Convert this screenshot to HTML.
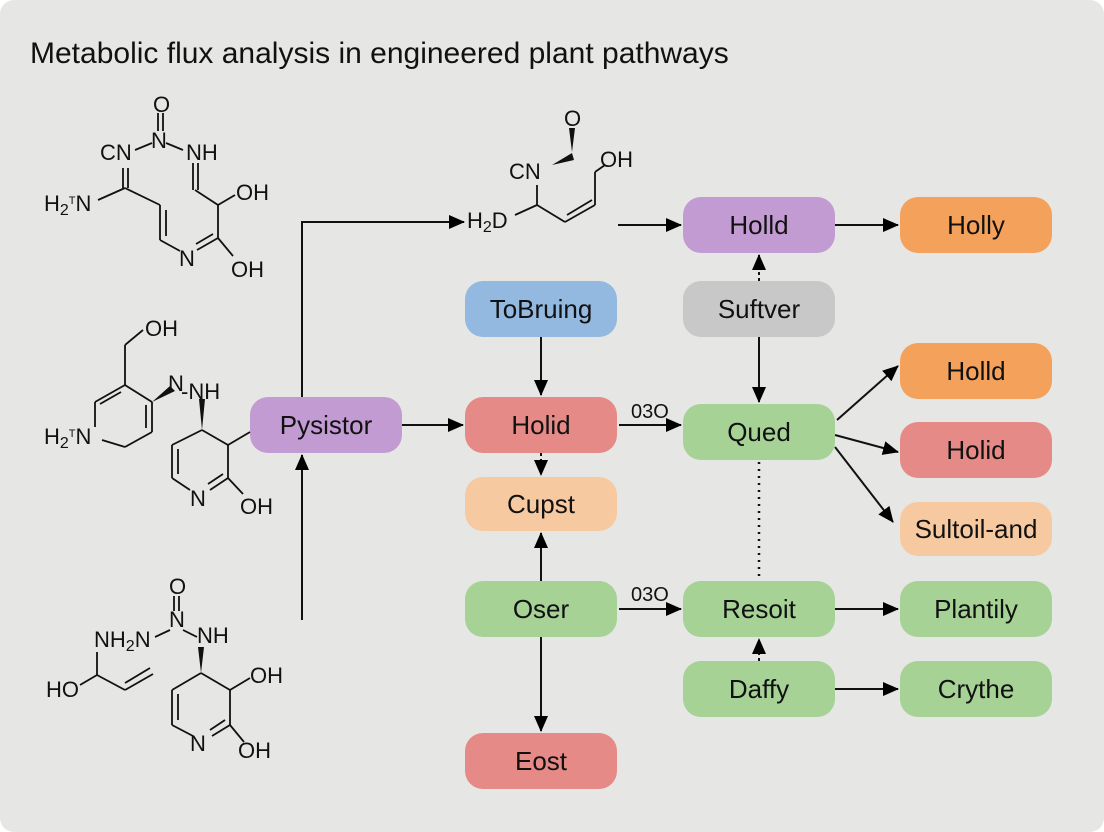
<!DOCTYPE html>
<html><head><meta charset="utf-8"><style>
body{margin:0;background:#fff;}
svg{display:block;font-family:"Liberation Sans",sans-serif;}
</style></head><body>
<svg width="1104" height="832" viewBox="0 0 1104 832" xmlns="http://www.w3.org/2000/svg">
<defs>
<marker id="b" markerWidth="16" markerHeight="14" refX="15" refY="7" orient="auto" markerUnits="userSpaceOnUse"><path d="M0,0 L16,7 L0,14 Z"/></marker>
</defs>
<rect x="0" y="0" width="1104" height="832" rx="14" fill="#e6e6e4"/>
<text x="30" y="63" font-size="30" fill="#111">Metabolic flux analysis in engineered plant pathways</text>

<g stroke="#111" stroke-width="2" fill="none">
<line x1="402" y1="425" x2="463" y2="425" marker-end="url(#b)"/>
<polyline points="302,397 302,222 464,222" marker-end="url(#b)"/>
<line x1="302" y1="620" x2="302" y2="455" marker-end="url(#b)"/>
<line x1="619" y1="425" x2="681" y2="425" marker-end="url(#b)"/>
<line x1="541" y1="337" x2="541" y2="395" marker-end="url(#b)"/>
<line x1="541" y1="453" x2="541" y2="475" stroke-dasharray="3,3" marker-end="url(#b)"/>
<line x1="541" y1="581" x2="541" y2="533" marker-end="url(#b)"/>
<line x1="541" y1="637" x2="541" y2="731" marker-end="url(#b)"/>
<line x1="619" y1="609" x2="681" y2="609" marker-end="url(#b)"/>
<line x1="835" y1="609" x2="898" y2="609" marker-end="url(#b)"/>
<line x1="835" y1="689" x2="898" y2="689" marker-end="url(#b)"/>
<line x1="759" y1="661" x2="759" y2="639" stroke-dasharray="3,3" marker-end="url(#b)"/>
<line x1="759" y1="462" x2="759" y2="581" stroke-dasharray="2,5" stroke-width="2.5"/>
<line x1="759" y1="337" x2="759" y2="402" marker-end="url(#b)"/>
<line x1="759" y1="281" x2="759" y2="255" stroke-dasharray="3,3" marker-end="url(#b)"/>
<line x1="618" y1="225" x2="681" y2="225" marker-end="url(#b)"/>
<line x1="835" y1="225" x2="898" y2="225" marker-end="url(#b)"/>
<line x1="837" y1="420" x2="898" y2="366" marker-end="url(#b)"/>
<line x1="835" y1="435" x2="898" y2="452" marker-end="url(#b)"/>
<line x1="835" y1="447" x2="893" y2="522" marker-end="url(#b)"/>
</g>
<g font-size="20" fill="#111"><text x="631" y="418">03O</text><text x="631" y="601">03O</text></g>

<g font-size="26" text-anchor="middle" fill="#111">
<rect x="250" y="397" width="152" height="56" rx="18" fill="#c39bd3"/><text x="326" y="434">Pysistor</text>
<rect x="465" y="281" width="152" height="56" rx="18" fill="#93b9e0"/><text x="541" y="318">ToBruing</text>
<rect x="465" y="397" width="152" height="56" rx="18" fill="#e58a87"/><text x="541" y="434">Holid</text>
<rect x="465" y="477" width="152" height="54" rx="18" fill="#f7c9a0"/><text x="541" y="513">Cupst</text>
<rect x="465" y="581" width="152" height="56" rx="18" fill="#a6d296"/><text x="541" y="618">Oser</text>
<rect x="465" y="733" width="152" height="56" rx="18" fill="#e58a87"/><text x="541" y="770">Eost</text>
<rect x="683" y="197" width="152" height="56" rx="18" fill="#c39bd3"/><text x="759" y="234">Holld</text>
<rect x="683" y="281" width="152" height="56" rx="18" fill="#c8c8c8"/><text x="759" y="318">Suftver</text>
<rect x="683" y="404" width="152" height="56" rx="18" fill="#a6d296"/><text x="759" y="441">Qued</text>
<rect x="683" y="581" width="152" height="56" rx="18" fill="#a6d296"/><text x="759" y="618">Resoit</text>
<rect x="683" y="661" width="152" height="56" rx="18" fill="#a6d296"/><text x="759" y="698">Daffy</text>
<rect x="900" y="197" width="152" height="56" rx="18" fill="#f4a25b"/><text x="976" y="234">Holly</text>
<rect x="900" y="343" width="152" height="56" rx="18" fill="#f4a25b"/><text x="976" y="380">Holld</text>
<rect x="900" y="422" width="152" height="56" rx="18" fill="#e58a87"/><text x="976" y="459">Holid</text>
<rect x="900" y="502" width="152" height="54" rx="18" fill="#f7c9a0"/><text x="976" y="538">Sultoil-and</text>
<rect x="900" y="581" width="152" height="56" rx="18" fill="#a6d296"/><text x="976" y="618">Plantily</text>
<rect x="900" y="661" width="152" height="56" rx="18" fill="#a6d296"/><text x="976" y="698">Crythe</text>
</g>

<g stroke="#111" stroke-width="1.8" fill="none">
<line x1="158" y1="113" x2="158" y2="131"/><line x1="163" y1="113" x2="163" y2="131"/>
<line x1="135" y1="150" x2="152" y2="143"/><line x1="166" y1="143" x2="183" y2="150"/>
<line x1="123" y1="168" x2="123" y2="188"/><line x1="128" y1="168" x2="128" y2="188"/>
<line x1="125" y1="188" x2="98" y2="200"/><line x1="125" y1="188" x2="160" y2="205"/>
<line x1="193" y1="163" x2="193" y2="190"/><line x1="198" y1="163" x2="198" y2="190"/>
<line x1="195" y1="190" x2="218" y2="205"/><line x1="218" y1="205" x2="235" y2="195"/>
<line x1="160" y1="205" x2="160" y2="240"/><line x1="166" y1="210" x2="166" y2="236"/>
<line x1="160" y1="240" x2="180" y2="251"/><line x1="197" y1="250" x2="218" y2="238"/><line x1="196" y1="244" x2="213" y2="234"/>
<line x1="218" y1="238" x2="218" y2="205"/><line x1="218" y1="238" x2="233" y2="256"/>
<line x1="143" y1="330" x2="125" y2="345"/><line x1="125" y1="345" x2="125" y2="385"/>
<line x1="125" y1="385" x2="95" y2="402"/><line x1="121" y1="392" x2="100" y2="404"/><line x1="95" y1="402" x2="95" y2="427"/>
<line x1="102" y1="440" x2="125" y2="447"/><line x1="125" y1="447" x2="152" y2="432"/>
<line x1="152" y1="432" x2="152" y2="402"/><line x1="146" y1="428" x2="146" y2="405"/><line x1="152" y1="402" x2="125" y2="385"/>
<line x1="172" y1="478" x2="172" y2="445"/><line x1="178" y1="474" x2="178" y2="449"/>
<line x1="172" y1="445" x2="202" y2="430"/><line x1="202" y1="430" x2="228" y2="445"/>
<line x1="228" y1="445" x2="228" y2="478"/><line x1="228" y1="478" x2="210" y2="490"/><line x1="223" y1="474" x2="208" y2="484"/>
<line x1="190" y1="490" x2="172" y2="478"/><line x1="228" y1="478" x2="243" y2="494"/><line x1="228" y1="445" x2="250" y2="432"/>
<line x1="174" y1="596" x2="174" y2="611"/><line x1="179" y1="596" x2="179" y2="611"/>
<line x1="155" y1="637" x2="170" y2="630"/><line x1="183" y1="630" x2="197" y2="637"/>
<line x1="97" y1="652" x2="97" y2="675"/><line x1="80" y1="685" x2="97" y2="675"/>
<line x1="97" y1="675" x2="125" y2="690"/><line x1="125" y1="690" x2="153" y2="674"/><line x1="125" y1="683" x2="150" y2="668"/>
<line x1="201" y1="673" x2="230" y2="690"/><line x1="230" y1="690" x2="250" y2="678"/>
<line x1="230" y1="690" x2="230" y2="725"/><line x1="230" y1="725" x2="212" y2="736"/><line x1="225" y1="720" x2="210" y2="730"/>
<line x1="193" y1="736" x2="172" y2="725"/><line x1="172" y1="725" x2="172" y2="690"/><line x1="178" y1="720" x2="178" y2="694"/>
<line x1="172" y1="690" x2="201" y2="673"/><line x1="230" y1="725" x2="244" y2="742"/>
<line x1="515" y1="215" x2="537" y2="205"/><line x1="537" y1="205" x2="537" y2="185"/>
<line x1="537" y1="205" x2="565" y2="222"/><line x1="565" y1="222" x2="595" y2="205"/><line x1="567" y1="215" x2="592" y2="200"/>
<line x1="595" y1="205" x2="595" y2="172"/><line x1="595" y1="172" x2="605" y2="165"/>
</g>
<g fill="#111">
<polygon points="152,402 170,386 175,391"/>
<polygon points="202,430 199,399 205,399"/>
<polygon points="201,673 198,647 204,647"/>
<polygon points="552,165 572,153 574,160"/>
<polygon points="572,152 569,128 575,128"/>
</g>
<g font-size="22" fill="#111">
<text x="153" y="112">O</text><text x="151" y="148">N</text><text x="186" y="160">NH</text><text x="100" y="160">CN</text>
<text x="44" y="211">H<tspan font-size="16" dy="4">2</tspan><tspan font-size="11" dy="-11">T</tspan><tspan dy="7">N</tspan></text>
<text x="236" y="200">OH</text><text x="179" y="266">N</text><text x="231" y="277">OH</text>
<text x="145" y="336">OH</text><text x="168" y="391">N</text><text x="181" y="399">-NH</text>
<text x="44" y="444">H<tspan font-size="16" dy="4">2</tspan><tspan font-size="11" dy="-11">T</tspan><tspan dy="7">N</tspan></text>
<text x="190" y="506">N</text><text x="240" y="514">OH</text>
<text x="169" y="594">O</text><text x="169" y="627">N</text><text x="197" y="643">NH</text>
<text x="94" y="647">NH<tspan font-size="16" dy="4">2</tspan><tspan dy="-4">N</tspan></text>
<text x="46" y="697">HO</text><text x="250" y="683">OH</text><text x="190" y="751">N</text><text x="238" y="758">OH</text>
<text x="564" y="126">O</text><text x="509" y="179">CN</text><text x="600" y="167">OH</text>
<text x="467" y="228">H<tspan font-size="16" dy="4">2</tspan><tspan dy="-4">D</tspan></text>
</g>
</svg>
</body></html>
